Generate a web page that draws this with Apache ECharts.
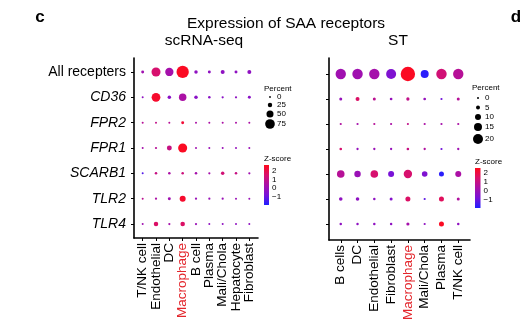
<!DOCTYPE html>
<html><head><meta charset="utf-8">
<script src="https://cdn.jsdelivr.net/npm/echarts@6/dist/echarts.min.js"></script>
<style>html,body{margin:0;padding:0;background:#fff}#c{width:532px;height:331px}</style>
</head><body><div id="c"></div>
<script>
// ---- data ----
const genes = ['All recepters', 'CD36', 'FPR2', 'FPR1', 'SCARB1', 'TLR2', 'TLR4'];
const scCells = ['T/NK cell', 'Endothelial', 'DC', 'Macrophage', 'B cell', 'Plasma', 'Mali/Chola', 'Hepatocyte', 'Fibroblast'];
const stCells = ['B cells', 'DC', 'Endothelial', 'Fibroblast', 'Macrophage', 'Mali/Chola', 'Plasma', 'T/NK cell'];

// percent expressing (rows = genes, cols = cells)
const scPct = [
  [11, 69, 62, 100, 16, 11, 21, 11, 21],
  [2, 66, 16, 54, 16, 7, 4, 4, 11],
  [2, 2, 2, 11, 2, 2, 2, 2, 2],
  [2, 4, 30, 69, 2, 2, 2, 2, 2],
  [2, 7, 7, 7, 7, 4, 16, 7, 4],
  [2, 4, 11, 40, 4, 4, 4, 2, 2],
  [2, 26, 4, 26, 4, 2, 2, 2, 2]
];
const scZ = [
  [0.2, 1.2, 0.3, 2.0, -0.1, -0.1, -0.1, -0.1, -0.1],
  [-0.1, 1.9, -0.2, 0.4, -0.2, -0.2, -0.2, -0.1, -0.2],
  [0.6, 0.8, 0.6, 1.8, 0.4, 0.4, 0.4, 0.4, 0.4],
  [0.3, 0.6, 0.9, 2.0, 0.2, 0.1, 0.1, 0.0, 0.1],
  [-0.9, 0.9, 0.4, 1.0, 0.3, 0.3, 1.1, 0.9, 0.2],
  [0.7, 0.4, 0.2, 1.9, 0.1, 0.1, 0.1, 0.1, 0.1],
  [0.2, 1.3, 0.3, 1.3, 0.1, -0.1, -0.1, -0.1, -0.1]
];
const stPct = [
  [21, 21, 21, 20, 31, 15, 21, 21],
  [2.5, 5, 2.5, 1.8, 3.2, 1.8, 0.5, 2.5],
  [0.5, 0.5, 0.5, 0.5, 0.5, 0.5, 0.5, 0.5],
  [1.5, 0.8, 0.8, 0.8, 1.5, 0.8, 0.5, 0.8],
  [14, 11, 14, 10, 16, 9, 7.5, 10],
  [4, 4, 1.2, 2.5, 7.5, 0.5, 7.5, 2.5],
  [1.2, 1.2, 1.2, 1.2, 3, 0.5, 7.5, 1.2]
];
const stZ = [
  [0.2, 0.2, 0.3, -0.4, 2.0, -1.3, 1.1, 0.6],
  [0.0, 1.3, 0.7, 0.0, 0.8, 0.0, -0.6, 0.6],
  [0.5, 0.3, 0.6, 0.4, 0.8, 0.4, 0.3, 0.4],
  [1.2, 0.0, 0.1, 0.0, 0.9, 0.5, -0.6, 0.2],
  [0.6, 0.1, 1.2, -0.5, 1.2, -0.4, -1.3, 0.4],
  [-0.1, -0.1, -0.1, -0.3, 1.3, -0.8, 1.4, 0.5],
  [-0.1, -0.1, -0.1, -0.1, 0.3, -0.1, 2.0, -0.1]
];
const scPctBreaks = [0, 25, 50, 75];
const stPctBreaks = [0, 5, 10, 15, 20];
const zBreaks = [2, 1, 0, -1];

// ---- styles / scales ----
const FONT = '"Liberation Sans", Arial, sans-serif';
const palette = ['#2020ff', '#7812d8', '#a810a8', '#d8106c', '#ff0a1a'];
const zMin = -1.4, zMax = 2.1;
const sizeSc = v => 1.8 + 0.105 * v;
const sizeSt = v => 2 + 0.4 * v;
const HIGHLIGHT = 'Macrophage';

function toPoints(pct, z) {
  const out = [];
  pct.forEach((row, gi) => row.forEach((p, ci) => out.push([ci, gi, p, z[gi][ci]])));
  return out;
}
const labelColor = name => (name === HIGHLIGHT ? '#e3262c' : '#000');

function axisPair(gi, cells, ymin, ymax, xmin, xmax, showX, showY) {
  const idx = cells.map((_, i) => i);
  const gIdx = genes.map((_, i) => i);
  return {
    x: {
      type: 'value', gridIndex: gi, min: xmin, max: xmax,
      splitLine: { show: false },
      axisLine: { show: true, onZero: false, lineStyle: { color: '#000', width: 1.6 } },
      axisTick: { show: true, length: 3, customValues: idx, lineStyle: { color: '#000' } },
      axisLabel: {
        show: showX, customValues: idx, rotate: 90, margin: 5, fontFamily: FONT, fontSize: 13.5,
        showMinLabel: true, showMaxLabel: true,
        formatter: v => cells[Math.round(v)],
        color: v => labelColor(cells[Math.round(v)])
      }
    },
    y: {
      type: 'value', gridIndex: gi, min: ymin, max: ymax, inverse: true,
      splitLine: { show: false },
      axisLine: { show: true, onZero: false, lineStyle: { color: '#000', width: 1.6 } },
      axisTick: { show: true, length: 3, customValues: gIdx, lineStyle: { color: '#000' } },
      axisLabel: {
        show: showY, customValues: gIdx, margin: 8, fontFamily: FONT, fontSize: 14, color: '#000',
        showMinLabel: true, showMaxLabel: true,
        formatter: v => {
          const name = genes[Math.round(v)];
          return Math.round(v) === 0 ? '{n|' + name + '}' : '{i|' + name + '}';
        },
        rich: {
          n: { fontFamily: FONT, fontSize: 14, color: '#000' },
          i: { fontFamily: FONT, fontSize: 14, color: '#000', fontStyle: 'italic' }
        }
      }
    }
  };
}

// left panel: axis at 134, x in [-0.65, 8.65] over 124 px
const SC_XMIN = -0.65, SC_XMAX = 8.65, SC_LEFT = 134, SC_W = 124;
const a0 = axisPair(0, scCells, -0.55, 6.55, SC_XMIN, SC_XMAX, false, true);
const a1 = axisPair(1, stCells, -0.64, 6.64, -0.7, 7.7, true, false);
// label-only category axis aligned with the left panel's columns
const scStep = SC_W / (SC_XMAX - SC_XMIN);
const scLabelGrid = { left: SC_LEFT + (0 - SC_XMIN) * scStep - scStep / 2, top: 58, width: scStep * scCells.length, height: 180 };

// ---- titles and legends (graphic) ----
const graphics = [];
function txt(x, y, s, size, opts) {
  graphics.push({ type: 'text', x: x, y: y,
    style: Object.assign({ text: s, fontFamily: FONT, fontSize: size, fill: '#000',
      textVerticalAlign: 'middle' }, (opts || {})) });
}
txt(286, 24, 'Expression of SAA receptors', 15.5, { textAlign: 'center' });
txt(204, 41, 'scRNA-seq', 15.5, { textAlign: 'center' });
txt(398, 41, 'ST', 15.5, { textAlign: 'center' });
txt(40, 17, 'c', 17, { textAlign: 'center', fontWeight: 'bold' });
txt(516, 17, 'd', 17, { textAlign: 'center', fontWeight: 'bold' });

function pctLegend(x, y, breaks, sizeFn, ys) {
  txt(x - 3, y, 'Percent', 8, {});
  breaks.forEach((b, i) => {
    const d = sizeFn(b);
    graphics.push({ type: 'circle', shape: { cx: x + 3, cy: ys[i], r: d / 2 }, style: { fill: '#000' } });
    txt(x + 10, ys[i], String(b), 8, {});
  });
}
pctLegend(267, 89, scPctBreaks, sizeSc, [97, 105, 114, 124]);
pctLegend(475, 88, stPctBreaks, sizeSt, [98, 107.5, 117, 127, 139]);

function zLegend(x, y, barTop, barBot, w, labelYs) {
  txt(x, y, 'Z-score', 8, {});
  graphics.push({ type: 'rect', shape: { x: x, y: barTop, width: w, height: barBot - barTop },
    style: { fill: new echarts.graphic.LinearGradient(0, 1, 0, 0,
      palette.map((c, i) => ({ offset: i / (palette.length - 1), color: c }))) } });
  zBreaks.forEach((b, i) => txt(x + w + 3, labelYs[i], b < 0 ? '\u2212' + Math.abs(b) : String(b), 8, {}));
}
zLegend(264, 159, 165, 205, 5, [171, 179.5, 188, 196.5]);
zLegend(475, 162, 168, 208, 5.5, [173, 182, 191, 200]);

const option = {
  animation: false,
  backgroundColor: '#fff',
  grid: [
    { left: SC_LEFT, top: 58, width: SC_W, height: 180 },
    { left: 329, top: 58, width: 141, height: 182 },
    scLabelGrid
  ],
  xAxis: [a0.x, a1.x, {
    type: 'category', gridIndex: 2, data: scCells, boundaryGap: true,
    axisLine: { show: false }, axisTick: { show: false }, splitLine: { show: false },
    axisLabel: { interval: 0, rotate: 90, margin: 5, fontFamily: FONT, fontSize: 13.5,
      color: v => labelColor(v) }
  }],
  yAxis: [a0.y, a1.y, { type: 'value', gridIndex: 2, show: false }],
  visualMap: [{
    type: 'continuous', show: false, dimension: 3, min: zMin, max: zMax,
    seriesIndex: [0, 1], inRange: { color: palette }
  }],
  series: [
    { type: 'scatter', xAxisIndex: 0, yAxisIndex: 0, data: toPoints(scPct, scZ),
      symbolSize: v => sizeSc(v[2]), itemStyle: { opacity: 1 } },
    { type: 'scatter', xAxisIndex: 1, yAxisIndex: 1, data: toPoints(stPct, stZ),
      symbolSize: v => sizeSt(v[2]), itemStyle: { opacity: 1 } }
  ],
  graphic: graphics
};
const chart = echarts.init(document.getElementById('c'), null, { renderer: 'canvas' });
chart.setOption(option);
</script>
</body></html>
